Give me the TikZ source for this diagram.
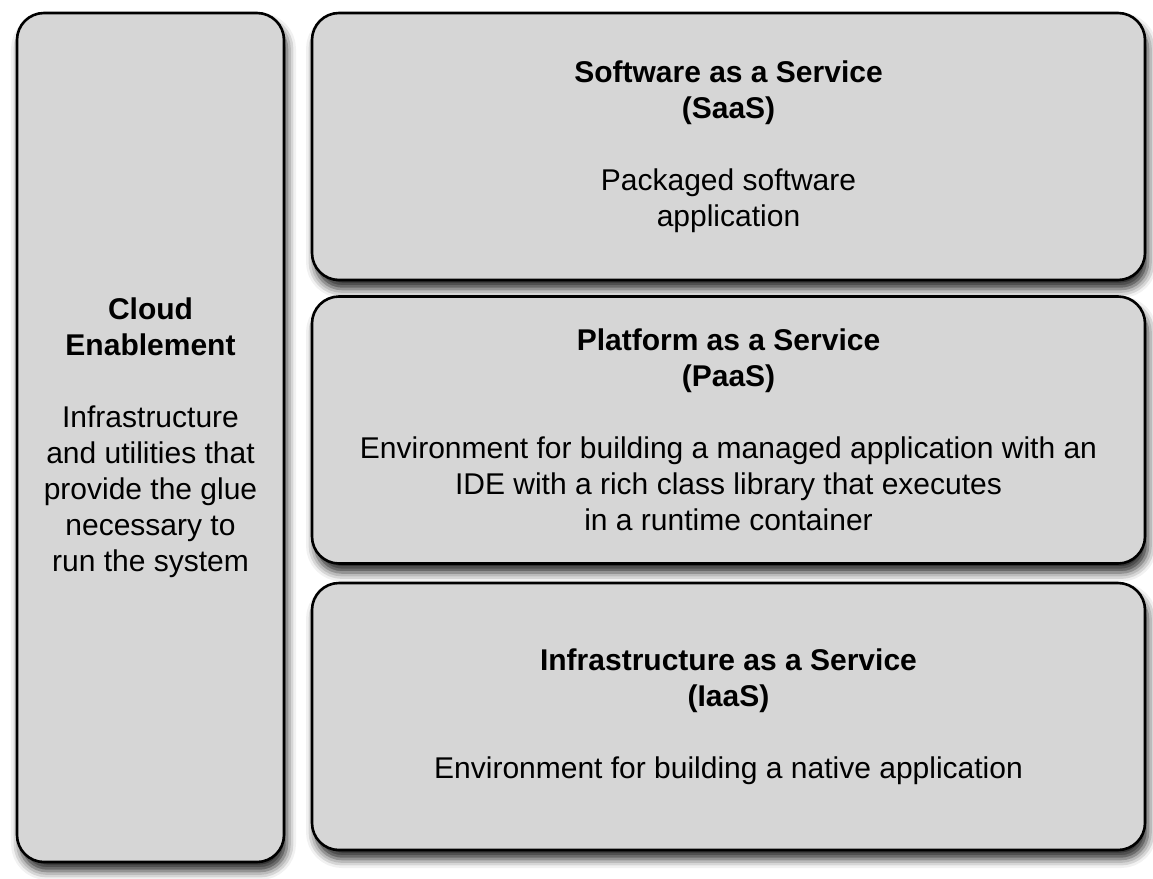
\documentclass[tikz,border=0pt]{standalone}
\usepackage{fontspec}
\setmainfont{Liberation Sans}
\usetikzlibrary{shadows.blur}
\definecolor{boxgray}{RGB}{214,214,214}
\begin{document}
\begin{tikzpicture}[x=1pt, y=-1pt, line join=round]
	\tikzset{layer/.style={draw=black, line width=2.6pt, fill=boxgray, rounded corners=27pt,
			align=center, inner sep=0pt, font=\fontsize{30}{36}\selectfont,
			blur shadow={shadow xshift=3pt, shadow yshift=-9pt, shadow blur radius=9pt, shadow opacity=85}},
		wide/.style={layer, minimum width=833pt, minimum height=267pt}}
	\useasboundingbox (0,0) rectangle (1153,878);
	\node[layer, minimum width=267pt, minimum height=849pt] (enable) at (150.5,437.5)
		{\textbf{Cloud}\\\textbf{Enablement}\\[36pt]Infrastructure\\and utilities that\\provide the glue\\necessary to\\run the system};
	\node[wide] (saas) at (728.5,146.5)
		{\textbf{Software as a Service}\\\textbf{(SaaS)}\\[36pt]Packaged software\\application};
	\node[wide] (paas) at (728.5,430)
		{\textbf{Platform as a Service}\\\textbf{(PaaS)}\\[36pt]Environment for building a managed application with an\\IDE with a rich class library that executes\\in a runtime container};
	\node[wide] (iaas) at (728.5,716.5)
		{\textbf{Infrastructure as a Service}\\\textbf{(IaaS)}\\[36pt]Environment for building a native application};
\end{tikzpicture}
\end{document}
